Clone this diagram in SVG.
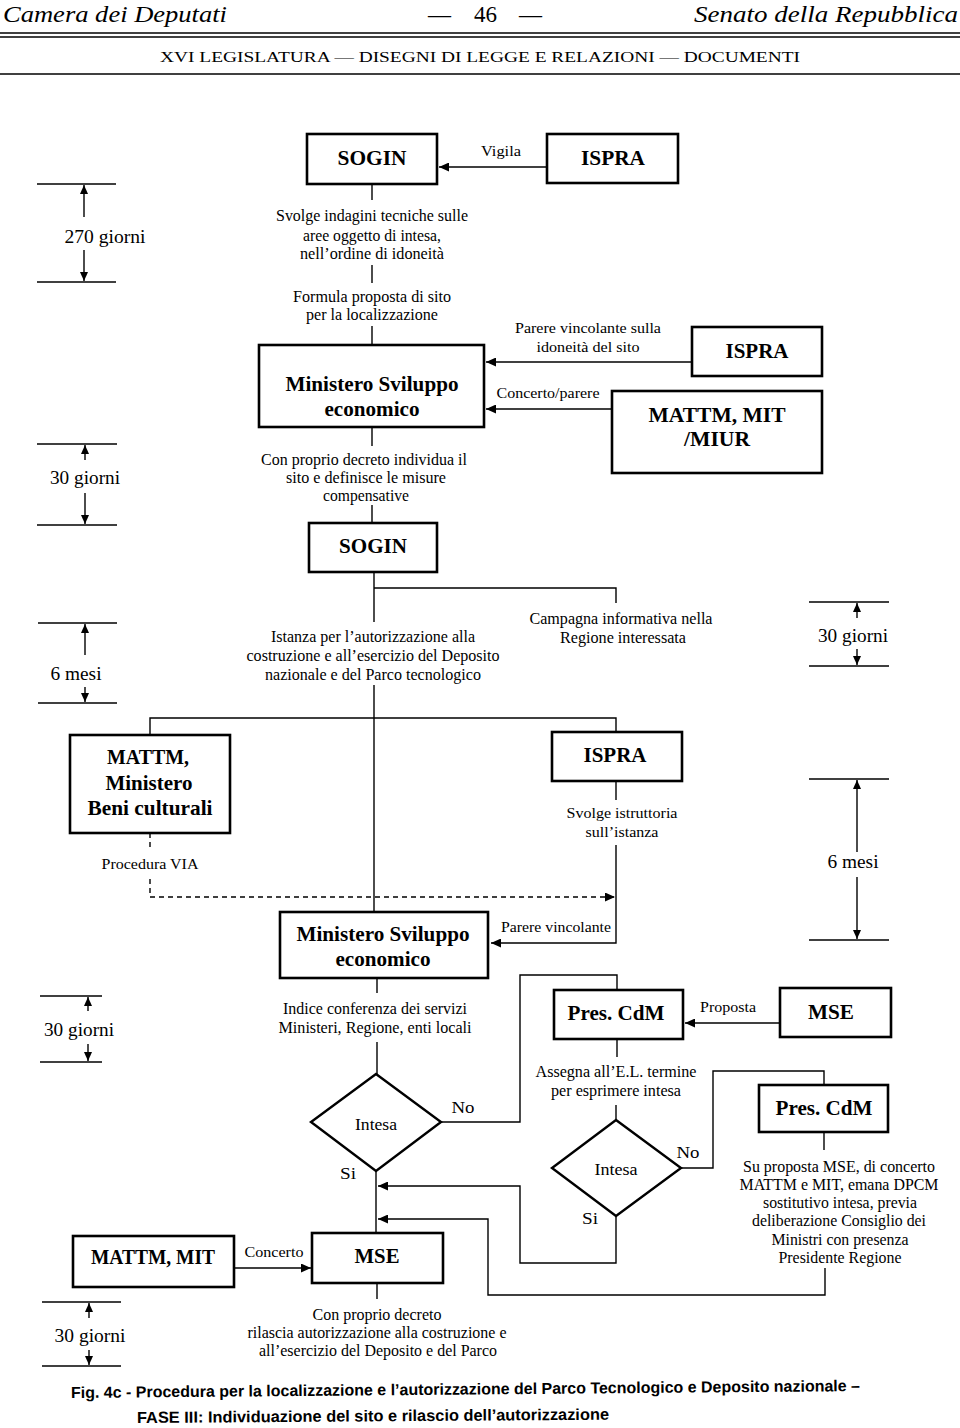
<svg xmlns="http://www.w3.org/2000/svg" width="960" height="1428" viewBox="0 0 960 1428">
<defs>
<style>
.bg{fill:#fff}
.box{fill:#fff;stroke:#000;stroke-width:2.6}
.dia{fill:#fff;stroke:#000;stroke-width:2.4}
.ln{fill:none;stroke:#000;stroke-width:1.4}
.dash{fill:none;stroke:#000;stroke-width:1.4;stroke-dasharray:5,4}
.rule{stroke:#000;stroke-width:1.3}
text{font-family:"Liberation Serif","Times New Roman",serif;fill:#000}
.t{font-size:16px;text-anchor:middle}
.s{font-size:15px;text-anchor:middle}
.b{font-size:21px;font-weight:bold;text-anchor:middle}
.d{font-size:18px;text-anchor:middle}
.hi{font-size:23px;font-style:italic}
.cap{font-family:"Liberation Sans Narrow","Liberation Sans",Arial,sans-serif;font-size:16px;font-weight:bold}
</style>
<marker id="ah" markerUnits="userSpaceOnUse" markerWidth="11" markerHeight="9" refX="10" refY="4.5" orient="auto">
<path d="M0,0 L10,4.5 L0,9 z" fill="#000"/>
</marker>
<marker id="dh" markerUnits="userSpaceOnUse" markerWidth="10" markerHeight="8" refX="9" refY="4" orient="auto">
<path d="M0,0 L9,4 L0,8 z" fill="#000"/>
</marker>
</defs>
<rect class="bg" x="0" y="0" width="960" height="1428"/>

<g id="header">
<text class="hi" x="3" y="22" textLength="224" lengthAdjust="spacingAndGlyphs">Camera dei Deputati</text>
<text x="428" y="22" font-size="23">—<tspan dx="23">46</tspan><tspan dx="22">—</tspan></text>
<text class="hi" x="958" y="22" text-anchor="end" textLength="264" lengthAdjust="spacingAndGlyphs">Senato della Repubblica</text>
<line class="rule" x1="0" y1="33" x2="960" y2="33" stroke-width="1.6"/>
<line class="rule" x1="0" y1="37" x2="960" y2="37" stroke-width="1"/>
<text x="480" y="62" font-size="15" text-anchor="middle" textLength="640" lengthAdjust="spacingAndGlyphs">XVI LEGISLATURA — DISEGNI DI LEGGE E RELAZIONI — DOCUMENTI</text>
<line class="rule" x1="0" y1="74" x2="960" y2="74"/>
</g>

<g id="connectors">
<path class="ln" d="M547,167 H439" marker-end="url(#ah)"/>
<path class="ln" d="M372,184 V200"/>
<path class="ln" d="M372,265 V283"/>
<path class="ln" d="M372,326 V345"/>
<path class="ln" d="M692,362 H486" marker-end="url(#ah)"/>
<path class="ln" d="M612,409 H486" marker-end="url(#ah)"/>
<path class="ln" d="M372,427 V446"/>
<path class="ln" d="M372,505 V523"/>
<path class="ln" d="M374,573 V622"/>
<path class="ln" d="M374,588 H616 V603"/>
<path class="ln" d="M374,685 V911"/>
<path class="ln" d="M150,735 V718 H616 V732"/>
<path class="ln" d="M616,781 V800"/>
<path class="ln" d="M616,845 V943 H491" marker-end="url(#ah)"/>
<path class="dash" d="M150,833 V850"/>
<path class="dash" d="M150,879 V897 H615" marker-end="url(#ah)"/>
<path class="ln" d="M377,978 V993"/>
<path class="ln" d="M377,1042 V1074"/>
<path class="ln" d="M441,1122 H520 V975 H617 V990"/>
<path class="ln" d="M780,1023 H685" marker-end="url(#ah)"/>
<path class="ln" d="M617,1039 V1057"/>
<path class="ln" d="M616,1105 V1120"/>
<path class="ln" d="M681,1168 H713 V1071 H824 V1085"/>
<path class="ln" d="M824,1132 V1150"/>
<path class="ln" d="M825,1268 V1295 H488 V1219 H378" marker-end="url(#ah)"/>
<path class="ln" d="M616,1216 V1263 H520 V1186 H378" marker-end="url(#ah)"/>
<path class="ln" d="M376,1171 V1233"/>
<path class="ln" d="M234,1268 H311" marker-end="url(#ah)"/>
<path class="ln" d="M377,1283 V1299"/>
</g>

<g id="dimensions">
<g id="dim-270">
<line class="rule" x1="37" y1="184" x2="116" y2="184"/>
<line class="rule" x1="37" y1="282" x2="116" y2="282"/>
<path class="ln" d="M84,217 V185" marker-end="url(#dh)"/>
<path class="ln" d="M84,250 V281" marker-end="url(#dh)"/>
<text class="d" x="105" y="243" textLength="81" lengthAdjust="spacingAndGlyphs">270 giorni</text>
</g>
<g id="dim-30a">
<line class="rule" x1="37" y1="444" x2="117" y2="444"/>
<line class="rule" x1="37" y1="525" x2="117" y2="525"/>
<path class="ln" d="M85,460 V445" marker-end="url(#dh)"/>
<path class="ln" d="M85,493 V524" marker-end="url(#dh)"/>
<text class="d" x="85" y="484" textLength="70" lengthAdjust="spacingAndGlyphs">30 giorni</text>
</g>
<g id="dim-6a">
<line class="rule" x1="38" y1="623" x2="117" y2="623"/>
<line class="rule" x1="38" y1="703" x2="117" y2="703"/>
<path class="ln" d="M85,655 V624" marker-end="url(#dh)"/>
<path class="ln" d="M85,687 V702" marker-end="url(#dh)"/>
<text class="d" x="76" y="680" textLength="51" lengthAdjust="spacingAndGlyphs">6 mesi</text>
</g>
<g id="dim-30b">
<line class="rule" x1="809" y1="602" x2="889" y2="602"/>
<line class="rule" x1="809" y1="666" x2="889" y2="666"/>
<path class="ln" d="M857,618 V603" marker-end="url(#dh)"/>
<path class="ln" d="M857,649 V665" marker-end="url(#dh)"/>
<text class="d" x="853" y="642" textLength="70" lengthAdjust="spacingAndGlyphs">30 giorni</text>
</g>
<g id="dim-6b">
<line class="rule" x1="809" y1="779" x2="889" y2="779"/>
<line class="rule" x1="809" y1="940" x2="889" y2="940"/>
<path class="ln" d="M857,852 V780" marker-end="url(#dh)"/>
<path class="ln" d="M857,877 V939" marker-end="url(#dh)"/>
<text class="d" x="853" y="868" textLength="51" lengthAdjust="spacingAndGlyphs">6 mesi</text>
</g>
<g id="dim-30c">
<line class="rule" x1="40" y1="996" x2="102" y2="996"/>
<line class="rule" x1="40" y1="1062" x2="102" y2="1062"/>
<path class="ln" d="M88,1011 V997" marker-end="url(#dh)"/>
<path class="ln" d="M88,1044 V1061" marker-end="url(#dh)"/>
<text class="d" x="79" y="1036" textLength="70" lengthAdjust="spacingAndGlyphs">30 giorni</text>
</g>
<g id="dim-30d">
<line class="rule" x1="42" y1="1302" x2="121" y2="1302"/>
<line class="rule" x1="42" y1="1366" x2="121" y2="1366"/>
<path class="ln" d="M89,1318 V1303" marker-end="url(#dh)"/>
<path class="ln" d="M89,1350 V1365" marker-end="url(#dh)"/>
<text class="d" x="90" y="1342" textLength="71" lengthAdjust="spacingAndGlyphs">30 giorni</text>
</g>
</g>

<g id="sogin-1">
<rect class="box" x="307" y="134" width="130" height="50"/>
<text class="b" x="372" y="165" textLength="69" lengthAdjust="spacingAndGlyphs">SOGIN</text>
</g>
<g id="ispra-1">
<rect class="box" x="547" y="134" width="131" height="49"/>
<text class="b" x="613" y="165" textLength="64" lengthAdjust="spacingAndGlyphs">ISPRA</text>
</g>
<g id="label-vigila"><text class="s" x="501" y="156" textLength="40" lengthAdjust="spacingAndGlyphs">Vigila</text></g>
<g id="text-svolge">
<text class="t" x="372" y="221" textLength="192" lengthAdjust="spacingAndGlyphs">Svolge indagini tecniche sulle</text>
<text class="t" x="372" y="241" textLength="138" lengthAdjust="spacingAndGlyphs">aree oggetto di intesa,</text>
<text class="t" x="372" y="259" textLength="144" lengthAdjust="spacingAndGlyphs">nell’ordine di idoneità</text>
</g>
<g id="text-formula">
<text class="t" x="372" y="302" textLength="158" lengthAdjust="spacingAndGlyphs">Formula proposta di sito</text>
<text class="t" x="372" y="320" textLength="132" lengthAdjust="spacingAndGlyphs">per la localizzazione</text>
</g>
<g id="mse-1">
<rect class="box" x="259" y="345" width="225" height="82"/>
<text class="b" x="372" y="391" textLength="173" lengthAdjust="spacingAndGlyphs">Ministero Sviluppo</text>
<text class="b" x="372" y="416" textLength="95" lengthAdjust="spacingAndGlyphs">economico</text>
</g>
<g id="label-parere">
<text class="s" x="588" y="333" textLength="146" lengthAdjust="spacingAndGlyphs">Parere vincolante sulla</text>
<text class="s" x="588" y="352" textLength="103" lengthAdjust="spacingAndGlyphs">idoneità del sito</text>
</g>
<g id="ispra-2">
<rect class="box" x="692" y="327" width="130" height="49"/>
<text class="b" x="757" y="358" textLength="63" lengthAdjust="spacingAndGlyphs">ISPRA</text>
</g>
<g id="label-concerto-parere"><text class="s" x="548" y="398" textLength="103" lengthAdjust="spacingAndGlyphs">Concerto/parere</text></g>
<g id="mattm-mit-miur">
<rect class="box" x="612" y="391" width="210" height="82"/>
<text class="b" x="717" y="422" textLength="137" lengthAdjust="spacingAndGlyphs">MATTM, MIT</text>
<text class="b" x="717" y="446" textLength="66" lengthAdjust="spacingAndGlyphs">/MIUR</text>
</g>
<g id="text-decreto">
<text class="t" x="364" y="465" textLength="206" lengthAdjust="spacingAndGlyphs">Con proprio decreto individua il</text>
<text class="t" x="366" y="483" textLength="160" lengthAdjust="spacingAndGlyphs">sito e definisce le misure</text>
<text class="t" x="366" y="501" textLength="86" lengthAdjust="spacingAndGlyphs">compensative</text>
</g>
<g id="sogin-2">
<rect class="box" x="309" y="523" width="128" height="49"/>
<text class="b" x="373" y="553" textLength="68" lengthAdjust="spacingAndGlyphs">SOGIN</text>
</g>
<g id="text-campagna">
<text class="t" x="621" y="624" textLength="183" lengthAdjust="spacingAndGlyphs">Campagna informativa nella</text>
<text class="t" x="623" y="643" textLength="126" lengthAdjust="spacingAndGlyphs">Regione interessata</text>
</g>
<g id="text-istanza">
<text class="t" x="373" y="642" textLength="204" lengthAdjust="spacingAndGlyphs">Istanza per l’autorizzazione alla</text>
<text class="t" x="373" y="661" textLength="253" lengthAdjust="spacingAndGlyphs">costruzione e all’esercizio del Deposito</text>
<text class="t" x="373" y="680" textLength="216" lengthAdjust="spacingAndGlyphs">nazionale e del Parco tecnologico</text>
</g>
<g id="mattm-beni">
<rect class="box" x="70" y="735" width="160" height="98"/>
<text class="b" x="148" y="764" textLength="82" lengthAdjust="spacingAndGlyphs">MATTM,</text>
<text class="b" x="149" y="790" textLength="87" lengthAdjust="spacingAndGlyphs">Ministero</text>
<text class="b" x="150" y="815" textLength="125" lengthAdjust="spacingAndGlyphs">Beni culturali</text>
</g>
<g id="ispra-3">
<rect class="box" x="552" y="732" width="130" height="49"/>
<text class="b" x="615" y="762" textLength="63" lengthAdjust="spacingAndGlyphs">ISPRA</text>
</g>
<g id="text-istruttoria">
<text class="s" x="622" y="818" textLength="111" lengthAdjust="spacingAndGlyphs">Svolge istruttoria</text>
<text class="s" x="622" y="837" textLength="73" lengthAdjust="spacingAndGlyphs">sull’istanza</text>
</g>
<g id="label-via"><text class="s" x="150" y="869" textLength="97" lengthAdjust="spacingAndGlyphs">Procedura VIA</text></g>
<g id="mse-2">
<rect class="box" x="280" y="912" width="208" height="66"/>
<text class="b" x="383" y="941" textLength="173" lengthAdjust="spacingAndGlyphs">Ministero Sviluppo</text>
<text class="b" x="383" y="966" textLength="95" lengthAdjust="spacingAndGlyphs">economico</text>
</g>
<g id="label-parere-vincolante"><text class="s" x="556" y="932" textLength="110" lengthAdjust="spacingAndGlyphs">Parere vincolante</text></g>
<g id="text-indice">
<text class="t" x="375" y="1014" textLength="184" lengthAdjust="spacingAndGlyphs">Indice conferenza dei servizi</text>
<text class="t" x="375" y="1033" textLength="193" lengthAdjust="spacingAndGlyphs">Ministeri, Regione, enti locali</text>
</g>
<g id="prescdm-1">
<rect class="box" x="554" y="990" width="129" height="49"/>
<text class="b" x="616" y="1020" textLength="97" lengthAdjust="spacingAndGlyphs">Pres. CdM</text>
</g>
<g id="label-proposta"><text class="s" x="728" y="1012" textLength="56" lengthAdjust="spacingAndGlyphs">Proposta</text></g>
<g id="mse-3">
<rect class="box" x="780" y="988" width="111" height="49"/>
<text class="b" x="831" y="1019" textLength="46" lengthAdjust="spacingAndGlyphs">MSE</text>
</g>
<g id="text-assegna">
<text class="t" x="616" y="1077" textLength="161" lengthAdjust="spacingAndGlyphs">Assegna all’E.L. termine</text>
<text class="t" x="616" y="1096" textLength="130" lengthAdjust="spacingAndGlyphs">per esprimere intesa</text>
</g>
<g id="intesa-1">
<path class="dia" d="M376,1074 L441,1122 L376,1171 L311,1122 Z"/>
<text class="t" x="376" y="1130" textLength="42" lengthAdjust="spacingAndGlyphs">Intesa</text>
</g>
<g id="label-no-1"><text class="t" x="463" y="1113" textLength="23" lengthAdjust="spacingAndGlyphs">No</text></g>
<g id="label-si-1"><text class="t" x="348" y="1179" textLength="16" lengthAdjust="spacingAndGlyphs">Si</text></g>
<g id="intesa-2">
<path class="dia" d="M616,1120 L681,1168 L616,1216 L552,1168 Z"/>
<text class="t" x="616" y="1175" textLength="43" lengthAdjust="spacingAndGlyphs">Intesa</text>
</g>
<g id="label-no-2"><text class="t" x="688" y="1158" textLength="23" lengthAdjust="spacingAndGlyphs">No</text></g>
<g id="label-si-2"><text class="t" x="590" y="1224" textLength="16" lengthAdjust="spacingAndGlyphs">Si</text></g>
<g id="prescdm-2">
<rect class="box" x="759" y="1085" width="129" height="47"/>
<text class="b" x="824" y="1115" textLength="97" lengthAdjust="spacingAndGlyphs">Pres. CdM</text>
</g>
<g id="text-dpcm">
<text class="t" x="839" y="1172" textLength="192" lengthAdjust="spacingAndGlyphs">Su proposta MSE, di concerto</text>
<text class="t" x="839" y="1190" textLength="199" lengthAdjust="spacingAndGlyphs">MATTM e MIT, emana DPCM</text>
<text class="t" x="840" y="1208" textLength="154" lengthAdjust="spacingAndGlyphs">sostitutivo intesa, previa</text>
<text class="t" x="839" y="1226" textLength="174" lengthAdjust="spacingAndGlyphs">deliberazione Consiglio dei</text>
<text class="t" x="840" y="1245" textLength="137" lengthAdjust="spacingAndGlyphs">Ministri con presenza</text>
<text class="t" x="840" y="1263" textLength="123" lengthAdjust="spacingAndGlyphs">Presidente Regione</text>
</g>
<g id="mattm-mit">
<rect class="box" x="73" y="1236" width="161" height="51"/>
<text class="b" x="153" y="1264" textLength="124" lengthAdjust="spacingAndGlyphs">MATTM, MIT</text>
</g>
<g id="label-concerto"><text class="s" x="274" y="1257" textLength="59" lengthAdjust="spacingAndGlyphs">Concerto</text></g>
<g id="mse-4">
<rect class="box" x="312" y="1233" width="131" height="50"/>
<text class="b" x="377" y="1263" textLength="45" lengthAdjust="spacingAndGlyphs">MSE</text>
</g>
<g id="text-rilascia">
<text class="t" x="377" y="1320" textLength="129" lengthAdjust="spacingAndGlyphs">Con proprio decreto</text>
<text class="t" x="377" y="1338" textLength="259" lengthAdjust="spacingAndGlyphs">rilascia autorizzazione alla costruzione e</text>
<text class="t" x="378" y="1356" textLength="238" lengthAdjust="spacingAndGlyphs">all’esercizio del Deposito e del Parco</text>
</g>

<g id="caption">
<text class="cap" x="71" y="1398" textLength="789" lengthAdjust="spacingAndGlyphs" transform="rotate(-0.5 71 1398)">Fig. 4c - Procedura per la localizzazione e l’autorizzazione del Parco Tecnologico e Deposito nazionale –</text>
<text class="cap" x="137" y="1423" textLength="472" lengthAdjust="spacingAndGlyphs" transform="rotate(-0.4 137 1423)">FASE III: Individuazione del sito e rilascio dell’autorizzazione</text>
</g>
</svg>
